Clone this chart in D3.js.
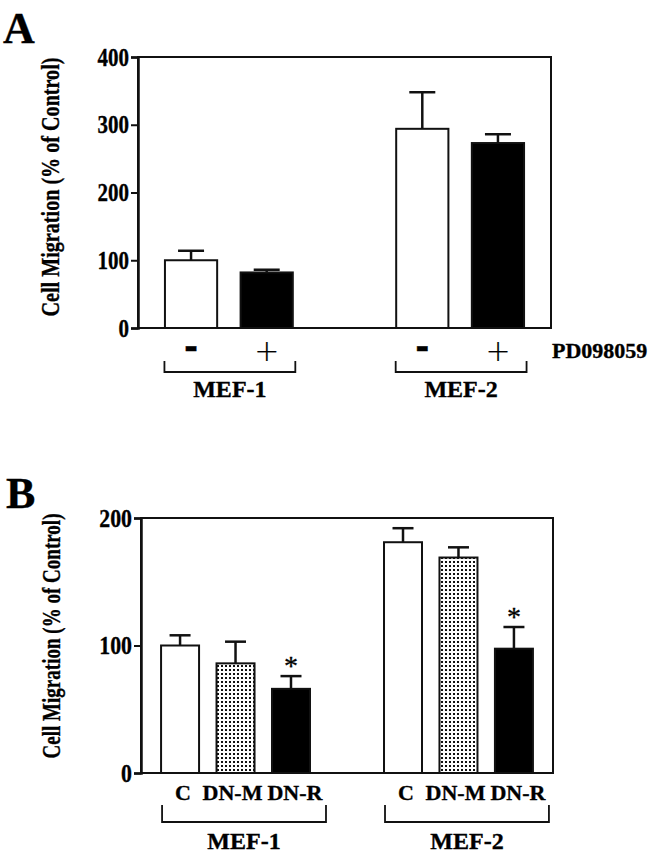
<!DOCTYPE html>
<html>
<head>
<meta charset="utf-8">
<script src="https://cdn.jsdelivr.net/npm/d3@7"></script>
<style>
  html, body { margin: 0; padding: 0; background: #fff; }
  svg { display: block; }
  text { font-family: "Liberation Serif", "Times New Roman", serif; font-weight: bold; fill: #000; stroke: #000; stroke-width: 0.35px; }
</style>
</head>
<body>
<svg id="chart" width="660" height="853"></svg>
<script>
// ---------- DATA ----------
const groupsA = ["MEF-1", "MEF-2"];
const treatmentsA = ["-", "+"];
const valuesA = [[100, 82], [294, 273]];
const errorsA = [[14, 4], [54, 13]];
const ticksA = [0, 100, 200, 300, 400];

const groupsB = ["MEF-1", "MEF-2"];
const treatmentsB = ["C", "DN-M", "DN-R"];
const valuesB = [[100, 86, 66], [181, 169, 97.5]];
const errorsB = [[8, 17, 10], [11, 8, 17]];
const significantB = [[false, false, true], [false, false, true]];
const ticksB = [0, 100, 200];

const yLabel = "Cell Migration (% of Control)";
const drugLabel = "PD098059";

// ---------- DRAW ----------
const svg = d3.select("#chart");
const defs = svg.append("defs");
const pat = defs.append("pattern").attr("id", "dots")
  .attr("patternUnits", "userSpaceOnUse").attr("width", 4).attr("height", 4);
pat.append("rect").attr("width", 4).attr("height", 4).attr("fill", "#fff");
pat.append("rect").attr("x", 1).attr("y", 1).attr("width", 2).attr("height", 2).attr("fill", "#111");

function panel(cfg) {
  const g = svg.append("g");
  const y = d3.scaleLinear().domain(cfg.domain).range([cfg.bottom, cfg.top]);
  const x0 = d3.scaleBand().domain(cfg.groups).range([cfg.left, cfg.right])
    .paddingInner(cfg.padInner).paddingOuter(cfg.padOuter);
  const x1 = d3.scaleBand().domain(cfg.treatments).range([0, x0.bandwidth()])
    .paddingInner(cfg.subPadInner).paddingOuter(cfg.subPadOuter);

  // frame
  g.append("rect").attr("x", cfg.left).attr("y", cfg.top)
    .attr("width", cfg.right - cfg.left).attr("height", cfg.bottom - cfg.top)
    .attr("fill", "none").attr("stroke", "#111").attr("stroke-width", 2);

  // y axis
  const sx = 0.84;
  const ax = g.append("g").attr("transform", `translate(${cfg.left},0)`)
    .call(d3.axisLeft(y).tickValues(cfg.ticks).tickSize(7).tickPadding(2).tickFormat(d3.format("d")));
  ax.select(".domain").attr("stroke", "#111").attr("stroke-width", 2.5);
  ax.selectAll(".tick line").attr("stroke", "#111").attr("stroke-width", 2);
  ax.selectAll(".tick text").style("font-family", '"Liberation Serif", serif')
    .style("font-weight", "bold").style("font-size", cfg.tickFont + "px").attr("fill", "#000")
    .attr("x", -9 / sx).attr("transform", `scale(${sx},1)`);

  // y label (condensed to fit the measured span)
  const yl = g.append("text")
    .attr("text-anchor", "middle")
    .style("font-size", "25px").text(yLabel);
  const natural = yl.node().getComputedTextLength();
  const k = cfg.ylabLen / natural;
  yl.attr("transform", `translate(${cfg.ylabX},${cfg.ylabY}) rotate(-90) scale(${k},1)`);

  // panel letter
  g.append("text").attr("x", cfg.letterX).attr("y", cfg.letterY)
    .style("font-size", "44px").text(cfg.letter);

  cfg.groups.forEach((grp, gi) => {
    const gx = x0(grp);
    cfg.treatments.forEach((t, ti) => {
      const v = cfg.values[gi][ti], e = cfg.errors[gi][ti];
      const bx = gx + x1(t), bw = x1.bandwidth(), cx = bx + bw / 2;
      // error bar
      g.append("line").attr("x1", cx).attr("x2", cx).attr("y1", y(v)).attr("y2", y(v + e))
        .attr("stroke", "#111").attr("stroke-width", 2.5);
      g.append("line").attr("x1", cx - cfg.cap / 2).attr("x2", cx + cfg.cap / 2)
        .attr("y1", y(v + e)).attr("y2", y(v + e))
        .attr("stroke", "#111").attr("stroke-width", 2.5);
      // bar
      g.append("rect").attr("x", bx).attr("y", y(v)).attr("width", bw).attr("height", y(0) - y(v))
        .attr("fill", cfg.fills[ti]).attr("stroke", "#111").attr("stroke-width", 2);
      // significance
      if (cfg.sig && cfg.sig[gi][ti]) {
        g.append("text").attr("x", cx).attr("y", y(v + e) - 1).attr("text-anchor", "middle")
          .style("font-size", "28px").style("font-weight", "normal").text("*");
      }
      // treatment label
      const lab = g.append("text").attr("x", cx + (cfg.subLabShift ? cfg.subLabShift[ti] : 0))
        .attr("y", cfg.subLabY).attr("text-anchor", "middle").text(t);
      if (cfg.signLabels) {
        if (t === "+") lab.style("font-family", '"DejaVu Sans", sans-serif').style("font-weight", "300")
          .style("stroke-width", "0.2px").attr("y", cfg.subLabY + 2).style("font-size", "30px");
        else lab.style("font-size", "34px").style("font-family", '"DejaVu Sans", sans-serif').attr("y", cfg.subLabY - 1).text("-");
      } else {
        lab.style("font-size", "22px");
      }
    });
    // bracket
    const bl = gx + cfg.brL, br = gx + x0.bandwidth() + cfg.brR;
    g.append("path")
      .attr("d", `M${bl},${cfg.brTop}V${cfg.brBot}H${br}V${cfg.brTop}`)
      .attr("fill", "none").attr("stroke", "#111").attr("stroke-width", 1.8);
    g.append("text").attr("x", (bl + br) / 2).attr("y", cfg.grpLabY)
      .attr("text-anchor", "middle").style("font-size", "24px").text(grp);
  });
  return g;
}

const gA = panel({
  groups: groupsA, treatments: treatmentsA, values: valuesA, errors: errorsA,
  domain: [0, 400], ticks: ticksA, tickFont: 25,
  left: 138, right: 551, top: 57, bottom: 328,
  padInner: 0.434, padOuter: 0.11, subPadInner: 0.31, subPadOuter: 0.02,
  cap: 26, fills: ["#fff", "#000"],
  ylabX: 59, ylabY: 187, ylabLen: 259,
  letter: "A", letterX: 3, letterY: 43,
  signLabels: true, subLabY: 359,
  brL: 1, brR: 1, brTop: 361, brBot: 372, grpLabY: 397
});
gA.append("text").attr("x", 552).attr("y", 358).style("font-size", "22px").text(drugLabel);

panel({
  groups: groupsB, treatments: treatmentsB, values: valuesB, errors: errorsB, sig: significantB,
  domain: [0, 200], ticks: ticksB, tickFont: 26,
  left: 141, right: 553, top: 518, bottom: 773,
  padInner: 0.332, padOuter: 0.09, subPadInner: 0.315, subPadOuter: 0,
  cap: 21, fills: ["#fff", "url(#dots)", "#000"],
  ylabX: 60, ylabY: 636, ylabLen: 245,
  letter: "B", letterX: 6, letterY: 508,
  signLabels: false, subLabY: 800, subLabShift: [3, -3, 4],
  brL: 1, brR: 16, brTop: 805, brBot: 822, grpLabY: 849
});
</script>
</body>
</html>
